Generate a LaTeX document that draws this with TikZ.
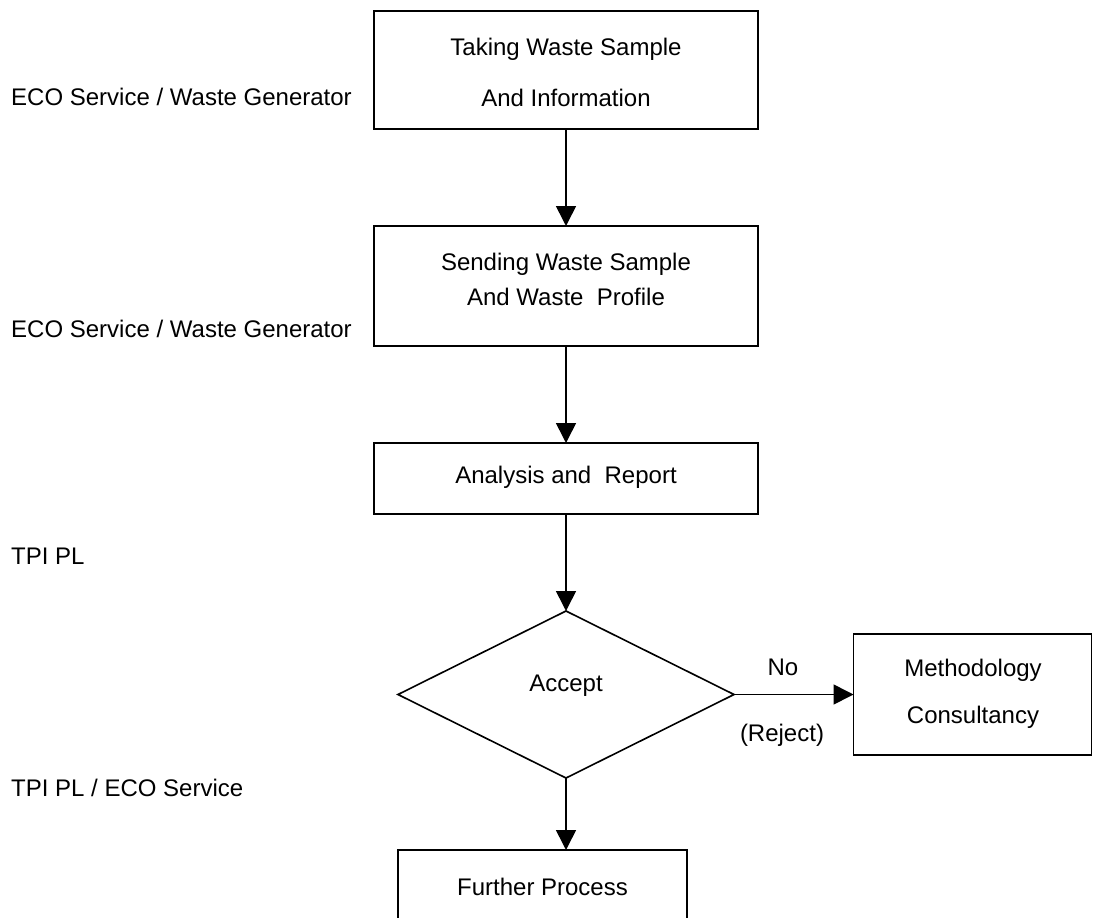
\documentclass[tikz,border=0pt]{standalone}
\usepackage{fontspec}
\setmainfont{Liberation Sans}
\usetikzlibrary{shapes.geometric,arrows.meta}
\begin{document}
\begin{tikzpicture}[x=1pt,y=-1pt,
  box/.style={draw, rectangle, inner sep=0pt, outer sep=0pt, line width=1.6pt},
  dia/.style={draw, diamond, inner sep=0pt, outer sep=0pt, line width=1.6pt},
  txt/.style={font=\fontsize{24}{24}\selectfont, inner sep=0pt, anchor=base},
  lbl/.style={font=\fontsize{24}{24}\selectfont, inner sep=0pt, anchor=base west},
  arr/.style={-{Triangle[length=20pt,width=20pt]}, line width=1.6pt}]
\clip (0,0) rectangle (1093,918);
\fill[white] (0,0) rectangle (1093,918);
% boxes
\node[box, minimum width=384pt, minimum height=118pt] (b1) at (566,70) {};
\node[box, minimum width=384pt, minimum height=120pt] (b2) at (566,286) {};
\node[box, minimum width=384pt, minimum height=71pt] (b3) at (566,478.5) {};
\node[dia, minimum width=336pt, minimum height=167pt] (d) at (566,694.5) {};
\node[box, minimum width=238pt, minimum height=121pt] (m) at (972.5,694.5) {};
\node[box, minimum width=289pt, minimum height=90pt] (f) at (542.5,895) {};
% texts in boxes
\node[txt] (t1a) at (566,55.5) {Taking Waste Sample};
\node[txt] (t1b) at (566,106.5) {And Information};
\node[txt] (t2a) at (566,270.5) {Sending Waste Sample};
\node[txt] (t2b) at (566,305.5) {And Waste\ \ Profile};
\node[txt] (t3) at (566,483.5) {Analysis and\ \ Report};
\node[txt] (td) at (566,691.5) {Accept};
\node[txt] (tma) at (973,676.5) {Methodology};
\node[txt] (tmb) at (973,723.5) {Consultancy};
\node[txt] (tf) at (542.5,895.5) {Further Process};
\node[txt] (tno) at (783,675.5) {No};
\node[txt] (trej) at (782,741.5) {(Reject)};
% side labels
\node[lbl] (l1) at (11,105.5) {ECO Service / Waste Generator};
\node[lbl] (l2) at (11,337.5) {ECO Service / Waste Generator};
\node[lbl] (l3) at (11,564.5) {TPI PL};
\node[lbl] (l4) at (11,796.5) {TPI PL / ECO Service};
% arrows
\draw[arr] (b1.south) -- (b2.north);
\draw[arr] (b2.south) -- (b3.north);
\draw[arr] (b3.south) -- (d.north);
\draw[arr] (d.east) -- (m.west);
\draw[arr] (d.south) -- (d.south |- f.north);
\end{tikzpicture}
\end{document}
